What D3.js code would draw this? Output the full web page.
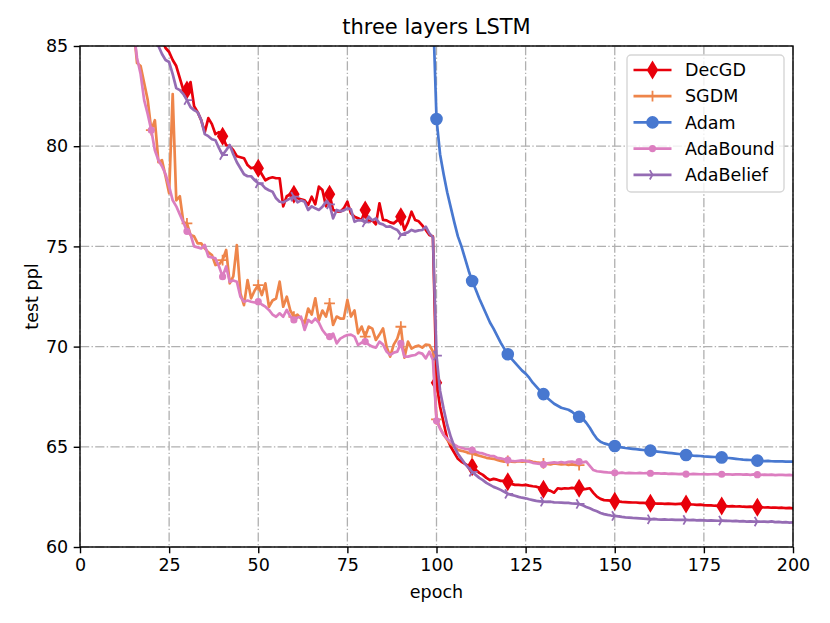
<!DOCTYPE html>
<html>
<head>
<meta charset="utf-8">
<script src="https://cdn.jsdelivr.net/npm/d3@7"></script>
<style>
  html, body { margin: 0; padding: 0; background: #fff; }
  svg { display: block; font-family: "DejaVu Sans", sans-serif; }
</style>
</head>
<body>
<svg id="chart" width="830" height="623"></svg>
<script>
// ---------------- data (test perplexity per epoch) ----------------
const seriesNames = ["DecGD", "SGDM", "Adam", "AdaBound", "AdaBelief"];
const xTicks = [0, 25, 50, 75, 100, 125, 150, 175, 200];
const yTicks = [60, 65, 70, 75, 80, 85];

const decgdStart = 22;
const decgd = [
  86.0, 85.3, 84.9, 84.7, 84.3, 84.0, 83.4, 82.8,
  82.8, 83.2, 82.0, 81.7, 81.3, 80.7, 81.4, 81.1, 80.6, 80.7,
  80.5, 80.05, 80.0, 79.8, 79.5, 79.45, 79.4, 79.06, 78.9, 78.95,
  78.9, 78.6, 78.3, 78.4, 78.45, 78.4, 78.4, 77.0, 77.5, 77.6,
  77.6, 77.4, 77.35, 77.3, 77.07, 77.48, 77.1, 77.98, 77.81, 77.0,
  77.6, 76.82, 76.75, 76.73, 76.9, 77.23, 76.65, 76.48, 76.4, 76.32,
  76.82, 76.23, 76.3, 76.1, 77.15, 76.32, 76.3, 76.2, 76.15, 76.3,
  76.48, 75.82, 76.2, 76.73, 76.32, 76.25, 76.05, 75.82, 75.57, 75.49,
  68.2, 67.0, 66.2, 65.4, 65.0, 64.7, 64.4, 64.25, 64.15, 64.05,
  64.0, 63.85, 63.7, 63.6, 63.45, 63.34, 63.4, 63.36, 63.3, 63.3,
  63.26, 63.15, 63.1, 63.1, 63.08, 63.1, 63.06, 63.03, 63.01, 62.95,
  62.88, 62.85, 62.8, 62.71, 62.93, 62.9, 62.93, 62.92, 62.95, 62.93,
  62.93, 62.88, 62.9, 62.93, 62.7, 62.51, 62.4, 62.34, 62.33, 62.31,
  62.28, 62.27, 62.25, 62.24, 62.23, 62.22, 62.22, 62.2, 62.2, 62.19,
  62.18, 62.17, 62.16, 62.17, 62.15, 62.16, 62.15, 62.14, 62.15, 62.16,
  62.15, 62.13, 62.12, 62.1, 62.11, 62.09, 62.08, 62.08, 62.06, 62.05,
  62.05, 62.04, 62.03, 62.04, 62.02, 62.03, 62.01, 62.0, 62.01, 62.0,
  61.98, 61.99, 61.97, 61.98, 61.96, 61.97, 61.95, 61.96, 61.94, 61.95,
  61.93
];

const sgdmStart = 14;
const sgdm = [
  87.5, 86.0, 84.15, 84.0, 83.15, 82.3,
  80.8, 81.3, 79.2, 79.3, 78.5, 77.65, 82.6, 77.3, 77.5, 76.2,
  76.15, 75.57, 75.5, 75.15, 75.15, 74.9, 74.7, 74.57, 74.07, 74.1,
  74.32, 74.82, 73.16, 73.5, 75.07, 72.66, 72.07, 73.32, 72.41, 72.8,
  73.07, 72.57, 73.16, 71.99, 72.3, 72.4, 73.24, 71.99, 72.49, 71.8,
  71.49, 71.6, 71.4, 71.16, 71.9, 71.6, 72.41, 71.3, 71.8, 71.5,
  72.16, 71.08, 71.5, 71.4, 71.4, 72.33, 71.5, 71.8, 70.66, 71.0,
  70.5, 71.0, 70.9, 70.33, 70.6, 70.91, 69.99, 69.5, 70.1, 70.4,
  70.99, 69.45, 70.25, 69.9, 70.0, 70.05, 69.95, 70.1, 70.08, 69.75,
  66.37, 65.95, 65.6, 65.35, 65.15, 65.0, 64.84, 64.8, 64.75, 64.7,
  64.67, 64.6, 64.55, 64.5, 64.45, 64.42, 64.4, 64.35, 64.3, 64.26,
  64.3, 64.26, 64.25, 64.28, 64.26, 64.27, 64.3, 64.25, 64.22, 64.2,
  64.17, 64.15, 64.12, 64.17, 64.15, 64.12, 64.14, 64.1, 64.12, 64.1,
  64.09
];

const adamStart = 98;
const adam = [
  95.0, 86.9,
  81.36, 79.6, 78.6, 77.7, 76.95, 76.2, 75.5, 75.0, 74.4, 73.8,
  73.27, 72.85, 72.4, 72.0, 71.6, 71.2, 70.9, 70.55, 70.2, 69.9,
  69.62, 69.4, 69.2, 69.0, 68.8, 68.65, 68.45, 68.2, 68.0, 67.8,
  67.63, 67.45, 67.3, 67.15, 67.05, 66.95, 66.9, 66.85, 66.75, 66.6,
  66.5, 66.4, 66.2, 65.95, 65.65, 65.4, 65.25, 65.17, 65.12, 65.08,
  65.04, 65.0, 64.97, 64.94, 64.92, 64.9, 64.88, 64.86, 64.84, 64.82,
  64.81, 64.78, 64.76, 64.74, 64.72, 64.7, 64.68, 64.66, 64.64, 64.62,
  64.59, 64.58, 64.56, 64.55, 64.54, 64.52, 64.51, 64.5, 64.49, 64.48,
  64.47, 64.45, 64.44, 64.42, 64.4, 64.38, 64.36, 64.35, 64.34, 64.32,
  64.31, 64.3, 64.29, 64.3, 64.28, 64.27, 64.28, 64.27, 64.26, 64.26,
  64.26
];

const adaboundStart = 14;
const adabound = [
  87.0, 85.8, 84.4, 83.6, 82.3, 81.6,
  80.8, 79.8, 79.3, 79.0, 78.6, 78.0, 77.3, 77.0, 76.6, 76.2,
  75.75, 75.6, 75.0, 74.95, 74.9, 75.07, 74.49, 74.45, 74.4, 74.0,
  73.49, 74.0, 73.24, 73.3, 73.24, 72.49, 72.24, 72.3, 72.24, 72.2,
  72.24, 72.1, 71.99, 71.83, 71.6, 71.49, 71.66, 71.49, 71.83, 71.5,
  71.33, 71.45, 71.49, 70.83, 71.33, 71.2, 71.4, 71.2, 70.83, 70.6,
  70.5, 70.65, 70.16, 70.4, 70.5, 70.58, 70.6, 70.5, 70.08, 70.2,
  70.25, 70.1, 70.0, 69.95, 70.25, 70.1, 69.75, 69.58, 69.7, 69.75,
  70.16, 69.5, 69.5, 69.55, 69.58, 69.7, 69.65, 69.41, 69.75, 69.33,
  66.3, 65.9, 65.6, 65.4, 65.25, 65.1, 65.0, 64.95, 64.9, 64.88,
  64.84, 64.75, 64.7, 64.67, 64.6, 64.55, 64.54, 64.45, 64.42, 64.38,
  64.34, 64.3, 64.28, 64.3, 64.32, 64.3, 64.26, 64.2, 64.17, 64.15,
  64.12, 64.18, 64.2, 64.22, 64.2, 64.24, 64.2, 64.25, 64.26, 64.22,
  64.26, 64.22, 64.26, 64.05, 63.84, 63.78, 63.76, 63.74, 63.72, 63.71,
  63.7, 63.69, 63.71, 63.68, 63.7, 63.69, 63.68, 63.7, 63.68, 63.69,
  63.68, 63.67, 63.68, 63.66, 63.67, 63.65, 63.66, 63.65, 63.64, 63.65,
  63.64, 63.63, 63.65, 63.64, 63.63, 63.64, 63.62, 63.63, 63.64, 63.62,
  63.63, 63.62, 63.63, 63.61, 63.62, 63.63, 63.61, 63.62, 63.6, 63.62,
  63.61, 63.6, 63.61, 63.6, 63.61, 63.59, 63.6, 63.6, 63.59, 63.6,
  63.58
];

const adabeliefStart = 20;
const adabelief = [
  86.5, 85.6, 85.0, 84.6, 84.3, 84.2, 83.6, 82.9, 82.8, 82.6,
  82.3, 81.95, 81.8, 81.7, 81.3, 80.6, 80.5, 80.35, 80.3, 79.9,
  79.56, 79.8, 80.06, 79.6, 79.2, 78.9, 78.6, 78.5, 78.5, 78.3,
  78.15, 78.1, 77.9, 77.8, 77.73, 77.4, 77.23, 77.2, 77.3, 77.4,
  77.48, 77.2, 77.3, 77.23, 76.82, 77.0, 76.9, 76.82, 76.98, 77.23,
  77.1, 76.4, 76.82, 76.75, 76.8, 76.9, 76.85, 76.23, 76.3, 76.3,
  76.2, 76.48, 76.3, 76.4, 76.15, 76.1, 75.98, 76.0, 75.9, 75.82,
  75.57, 75.65, 75.7, 75.82, 75.75, 75.8, 75.82, 75.98, 75.65, 75.45,
  69.55, 67.8, 66.9, 66.1, 65.5, 65.0, 64.65, 64.4, 64.15, 63.95,
  63.75, 63.6, 63.45, 63.34, 63.2, 63.1, 63.0, 62.93, 62.85, 62.75,
  62.65, 62.6, 62.56, 62.5, 62.46, 62.43, 62.38, 62.34, 62.3, 62.28,
  62.26, 62.25, 62.26, 62.23, 62.22, 62.21, 62.2, 62.2, 62.17, 62.16,
  62.15, 62.08, 62.0, 61.93, 61.85, 61.78, 61.7, 61.64, 61.6, 61.57,
  61.55, 61.53, 61.5, 61.48, 61.47, 61.45, 61.44, 61.43, 61.42, 61.4,
  61.38, 61.4, 61.38, 61.37, 61.38, 61.36, 61.37, 61.35, 61.36, 61.35,
  61.35, 61.34, 61.35, 61.33, 61.34, 61.33, 61.32, 61.33, 61.32, 61.31,
  61.32, 61.3, 61.31, 61.29, 61.3, 61.28, 61.29, 61.27, 61.28, 61.27,
  61.27, 61.26, 61.27, 61.25, 61.28, 61.24, 61.25, 61.23, 61.24, 61.22,
  61.23
];

// ---------------- layout ----------------
const W = 830, H = 623;
const M = { left: 80, right: 37, top: 46, bottom: 76 };
const pw = W - M.left - M.right, ph = H - M.top - M.bottom;

const series = [
  { name: "DecGD",     start: decgdStart,     values: decgd,     color: "#e8000b", marker: "thin_diamond" },
  { name: "SGDM",      start: sgdmStart,      values: sgdm,      color: "#ee854a", marker: "plus" },
  { name: "Adam",      start: adamStart,      values: adam,      color: "#4878d0", marker: "circle" },
  { name: "AdaBound",  start: adaboundStart,  values: adabound,  color: "#dc7ec0", marker: "point" },
  { name: "AdaBelief", start: adabeliefStart, values: adabelief, color: "#956cb4", marker: "tri_right" }
];

const svg = d3.select("#chart");
const x = d3.scaleLinear().domain([0, 200]).range([M.left, M.left + pw]);
const y = d3.scaleLinear().domain([60, 85]).range([M.top + ph, M.top]);

svg.append("defs").append("clipPath").attr("id", "clip")
  .append("rect").attr("x", M.left).attr("y", M.top).attr("width", pw).attr("height", ph);

// grid
const gridDash = "9.2,2.3,1.4,2.3";
const grid = svg.append("g");
grid.selectAll("line.vx").data(xTicks).join("line")
  .attr("x1", d => x(d)).attr("x2", d => x(d))
  .attr("y1", M.top).attr("y2", M.top + ph)
  .attr("stroke", "#b0b0b0").attr("stroke-width", 1.3).attr("stroke-dasharray", gridDash);
grid.selectAll("line.hy").data(yTicks).join("line")
  .attr("y1", d => y(d)).attr("y2", d => y(d))
  .attr("x1", M.left).attr("x2", M.left + pw)
  .attr("stroke", "#b0b0b0").attr("stroke-width", 1.3).attr("stroke-dasharray", gridDash);

// marker symbol paths (centered at 0,0)
const ms = 10.8; // markersize in px
function markerPath(kind) {
  if (kind === "thin_diamond") {
    const h = ms * 0.72, w = h * 0.6;
    return `M0,${-h}L${w},0L0,${h}L${-w},0Z`;
  }
  if (kind === "plus") {
    const r = ms / 2;
    return `M${-r},0L${r},0M0,${-r}L0,${r}`;
  }
  if (kind === "circle") {
    const r = ms / 2;
    return `M${r},0A${r},${r} 0 1,1 ${-r},0A${r},${r} 0 1,1 ${r},0Z`;
  }
  if (kind === "point") {
    const r = ms / 4;
    return `M${r},0A${r},${r} 0 1,1 ${-r},0A${r},${r} 0 1,1 ${r},0Z`;
  }
  if (kind === "tri_right") {
    const r = ms / 2;
    return `M0,0L${r},0M0,0L${-r * 0.5},${-r * 0.866}M0,0L${-r * 0.5},${r * 0.866}`;
  }
}
function drawMarker(g, kind, color, cx, cy) {
  const filled = (kind === "thin_diamond" || kind === "circle" || kind === "point");
  g.append("path").attr("d", markerPath(kind))
    .attr("transform", `translate(${cx},${cy})`)
    .attr("fill", filled ? color : "none")
    .attr("stroke", color).attr("stroke-width", 1.8)
    .attr("stroke-linejoin", "miter");
}

// lines
const plot = svg.append("g").attr("clip-path", "url(#clip)");
series.forEach(s => {
  const pts = s.values.map((v, i) => ({ e: s.start + i, v }));
  const line = d3.line().x(d => x(d.e)).y(d => y(d.v));
  plot.append("path").datum(pts).attr("d", line)
    .attr("fill", "none").attr("stroke", s.color).attr("stroke-width", 2.7)
    .attr("stroke-linejoin", "round").attr("stroke-linecap", "square");
  const mg = plot.append("g");
  pts.filter(d => d.e % 10 === 0 && d.e < 200).forEach(d => drawMarker(mg, s.marker, s.color, x(d.e), y(d.v)));
});

// spines
svg.append("rect").attr("x", M.left).attr("y", M.top).attr("width", pw).attr("height", ph)
  .attr("fill", "none").attr("stroke", "#000").attr("stroke-width", 1.4);

// axes
const xAxis = svg.append("g").attr("transform", `translate(0,${M.top + ph})`)
  .call(d3.axisBottom(x).tickValues(xTicks).tickSize(6.3).tickPadding(5.5).tickFormat(d3.format("d")));
const yAxis = svg.append("g").attr("transform", `translate(${M.left},0)`)
  .call(d3.axisLeft(y).tickValues(yTicks).tickSize(6.3).tickPadding(5.5).tickFormat(d3.format("d")));
[xAxis, yAxis].forEach(a => {
  a.select(".domain").remove();
  a.selectAll(".tick line").attr("stroke", "#000").attr("stroke-width", 1.4);
  a.selectAll(".tick text").attr("fill", "#000").style("font-size", "17.5px")
    .style("font-family", "DejaVu Sans, sans-serif");
});

// labels
svg.append("text").attr("x", M.left + pw / 2).attr("y", 34).attr("text-anchor", "middle")
  .style("font-size", "21px").attr("fill", "#000").text("three layers LSTM");
svg.append("text").attr("x", M.left + pw / 2).attr("y", 598).attr("text-anchor", "middle")
  .style("font-size", "17.5px").attr("fill", "#000").text("epoch");
svg.append("text").attr("transform", `translate(38,${M.top + ph / 2}) rotate(-90)`)
  .attr("text-anchor", "middle").style("font-size", "17.5px").attr("fill", "#000").text("test ppl");

// legend
const lg = svg.append("g");
lg.append("rect").attr("x", 627).attr("y", 55).attr("width", 157).attr("height", 137)
  .attr("rx", 4).attr("ry", 4)
  .attr("fill", "#fff").attr("fill-opacity", 0.8)
  .attr("stroke", "#d6d6d6").attr("stroke-width", 1.4);
series.forEach((s, i) => {
  const cy = 70 + i * 26.2;
  lg.append("line").attr("x1", 633.5).attr("x2", 671.5).attr("y1", cy).attr("y2", cy)
    .attr("stroke", s.color).attr("stroke-width", 2.7);
  drawMarker(lg, s.marker, s.color, 652.5, cy);
  lg.append("text").attr("x", 685).attr("y", cy).attr("dy", "0.35em")
    .style("font-size", "17.5px").attr("fill", "#000").text(s.name);
});
</script>
</body>
</html>
